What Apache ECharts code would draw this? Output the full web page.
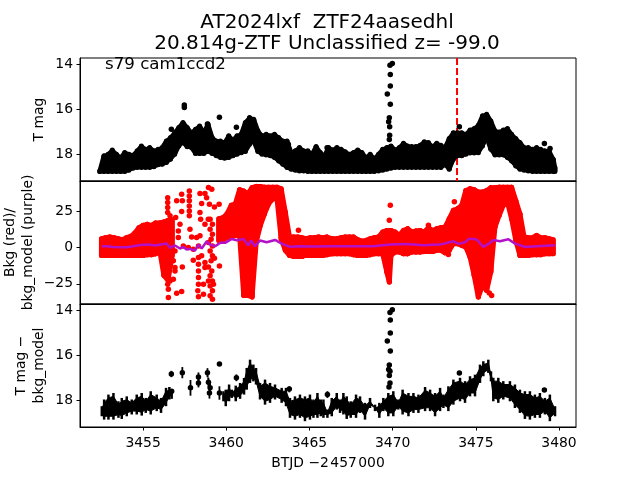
<!DOCTYPE html>
<html><head><meta charset="utf-8">
<style>html,body{margin:0;padding:0;background:#fff}#c{width:640px;height:480px}</style>
<script src="https://cdn.jsdelivr.net/npm/echarts@6/dist/echarts.min.js"></script>
</head><body><div id="c"></div>
<script>
const xTicks=[3455,3460,3465,3470,3475,3480];
const magTicks=[14,16,18];
const bkgTicks=[-25,0,25];
const eventTime=3473.87;
// Panel 1: dense T mag band, columns of [time, brightest, faintest]
const magBand=[
[3452.4,18.75,18.78],[3452.65,18.08,18.78],[3452.9,18.01,18.78],[3453.15,17.82,18.78],[3453.4,18.01,18.78],[3453.65,18.16,18.78],[3453.9,17.93,18.78],[3454.15,18.01,18.72],[3454.4,18.05,18.63],[3454.65,17.86,18.6],[3454.9,17.64,18.6],[3455.15,17.79,18.6],[3455.4,17.71,18.6],[3455.65,17.86,18.57],[3455.9,17.79,18.48],[3456.15,17.71,18.46],[3456.4,17.42,18.38],[3456.65,17.27,18.23],[3456.9,17.05,18.01],[3457.15,16.82,17.64],[3457.4,16.6,17.49],[3457.65,16.82,17.68],[3457.9,17.05,17.71],[3458.15,16.9,17.98],[3458.4,16.75,17.98],[3458.65,17.05,17.98],[3458.9,16.67,17.89],[3459.15,17.27,17.98],[3459.4,17.42,18.08],[3459.65,17.42,18.16],[3459.9,17.49,18.19],[3460.15,17.19,18.16],[3460.4,17.37,18.08],[3460.65,17.19,18.01],[3460.9,17.12,17.94],[3461.15,16.6,17.89],[3461.4,16.38,17.57],[3461.65,16.45,17.42],[3461.9,16.97,17.89],[3462.15,17.19,18.01],[3462.4,17.12,18.04],[3462.65,17.19,18.08],[3462.9,17.12,18.16],[3463.15,17.27,18.31],[3463.4,17.42,18.46],[3463.65,17.42,18.6],[3463.9,17.93,18.68],[3464.15,17.86,18.72],[3464.4,17.71,18.75],[3464.65,17.86,18.75],[3464.9,17.86,18.78],[3465.15,18.01,18.78],[3465.4,17.67,18.78],[3465.65,17.93,18.78],[3465.9,18.08,18.78],[3466.15,17.71,18.78],[3466.4,17.82,18.78],[3466.65,17.71,18.78],
[3466.9,17.79,18.78],[3467.15,17.9,18.78],[3467.4,18.01,18.78],[3467.65,17.93,18.78],[3467.9,17.82,18.78],[3468.15,17.93,18.78],[3468.4,18.16,18.78],[3468.65,18.01,18.78],[3468.9,18.2,18.78],[3469.15,18.01,18.75],[3469.4,17.79,18.72],[3469.65,17.71,18.68],[3469.9,17.64,18.63],[3470.15,17.82,18.6],[3470.4,17.71,18.6],[3470.65,17.52,18.6],[3470.9,17.64,18.6],[3471.15,17.67,18.6],[3471.4,17.67,18.6],[3471.65,17.61,18.6],[3471.9,17.46,18.6],[3472.15,17.49,18.6],[3472.4,17.67,18.6],[3472.65,17.52,18.6],[3472.9,17.61,18.6],[3473.15,17.71,18.48],[3473.4,17.31,18.68],[3473.65,17.05,18.23],[3473.9,17.05,18.08],[3474.15,17.05,18.08],[3474.4,17.12,18.01],[3474.65,16.93,17.95],[3474.9,16.87,17.95],[3475.15,16.72,17.94],[3475.4,16.3,17.64],[3475.65,16.23,17.27],[3475.9,16.53,17.79],[3476.15,16.97,18.04],[3476.4,17.02,18.04],[3476.65,16.93,18.04],[3476.9,16.87,18.16],[3477.15,17.12,18.31],[3477.4,17.31,18.53],[3477.65,17.49,18.68],[3477.9,17.71,18.72],[3478.15,17.71,18.75],[3478.4,17.79,18.78],[3478.65,17.71,18.78],[3478.9,17.79,18.78],[3479.15,17.86,18.78],[3479.4,17.86,18.78],[3479.65,18.23,18.78],[3479.75,18.6,18.78]];
const magPoints=[[3457.48,15.93],[3457.48,15.82],[3456.7,16.9],[3458.87,16.67],[3459.59,16.37],[3460.61,16.81],[3463.73,17.57],[3466.06,17.72],[3469.98,13.97],[3469.84,14.05],[3469.86,14.46],[3469.86,14.98],[3469.68,15.33],[3469.86,15.79],[3469.8,16.39],[3469.76,16.56],[3469.82,16.79],[3469.82,17.16],[3469.8,17.35],[3474.01,16.79],[3479.12,17.53],[3479.46,17.75]];
// Panel 2: dense background band [time, top, bottom] and scattered points
const bkgBand=[
[3452.5,5.9,-5.5],[3452.75,6.6,-5.5],[3453,7.1,-5.5],[3453.25,6.6,-5.5],[3453.5,5.9,-5.5],[3453.75,5.3,-5.5],[3454,6.6,-5.5],[3454.25,7.5,-5.5],[3454.5,9.8,-5.5],[3454.75,13.5,-5.5],[3455,15.1,-5.5],[3455.25,15.8,-5],[3455.5,15.1,-5],[3455.75,16.7,-4.4],[3456,16.7,-2],[3456.25,17.4,-19.2],[3456.5,18.5,-22.6],[3456.75,19,-5.5],
[3459.55,19.6,4.8],[3459.8,20.3,4.8],[3460.05,23.1,7],[3460.3,28.8,7],[3460.55,29.9,8.2],[3460.8,39.5,8.2],[3461.05,38.6,-32.9],[3461.3,36.8,-32.9],[3461.55,40.9,-34],[3461.8,41.8,3.6],[3462.05,41.8,15.1],[3462.3,41.3,23],[3462.55,41.3,29.9],[3462.8,41.3,33.3],[3463.05,41.3,33.3],[3463.3,40.2,5.9],[3463.55,24.2,-2],[3463.8,7.1,-5.5],[3464.05,7.1,-6.2],[3464.3,7.1,-6.2],[3464.55,6.6,-6.2],[3464.8,5.9,-5.5],[3465.05,6.6,-5.5],[3465.3,6.6,-5.5],[3465.55,7.1,-5.5],[3465.8,6.6,-5.5],[3466.05,7.1,-5],
[3466.4,5.9,-4.4],[3466.65,5.9,-4.4],[3466.9,6.6,-4.4],[3467.15,7.1,-4.4],[3467.4,7.1,-4.4],[3467.65,7.1,-5],[3467.9,5.3,-5.5],[3468.15,4.3,-5.5],[3468.4,4.8,-5.5],[3468.65,5.9,-5],[3468.9,6.6,-4.4],[3469.15,7.1,-4.4],[3469.4,10.5,-4.4],[3469.65,11.6,-16.9],[3469.8,11.6,-23.8],[3469.9,11.6,-5.5],[3470.15,10.5,-3.2],[3470.4,8.2,-3.2],[3470.65,11.6,-4.4],[3470.9,12.8,-4.4],[3471.15,10.5,-3.2],[3471.4,11.2,-3.2],[3471.65,11.6,-3.2],[3471.9,10.5,-2.8],[3472.15,13.5,-2.8],[3472.4,11.6,-2.8],[3472.65,12.8,-2],[3472.9,13.5,-2],[3473.15,13.9,-3.7],[3473.4,19.6,-2],[3473.65,25.4,2.5],[3473.9,26.5,2.5],[3474.15,28.8,1.4],[3474.4,39,0.2],[3474.65,40.2,-6.6],[3474.9,39.5,-19.2],[3475.15,37.9,-34],[3475.4,37.9,-26],[3475.65,39,-29.5],[3475.9,40.9,-16.9],[3476.15,40.9,13.9],[3476.4,41.3,21.9],[3476.65,41.3,28.8],[3476.9,41.3,31],[3477.15,41.3,19.6],[3477.4,32.2,4.8],[3477.65,23.1,-5.5],[3477.9,7.1,-5.5],[3478.15,6.6,-5.5],[3478.4,6.6,-5],[3478.65,8.2,-5],[3478.9,6.6,-5],[3479.15,6.6,-4.4],[3479.4,5.9,-4.4],[3479.65,5.3,-4.4]];
const bkgPoints=[[3456.48,34.1],[3456.48,30.7],[3456.48,27.3],[3456.48,23.9],[3456.62,21.6],[3457.02,31.9],[3457.36,31.9],[3457.32,36.4],[3457.32,24.6],[3456.96,20.4],[3457.78,38.7],[3457.78,35.3],[3457.78,31.9],[3457.78,28.4],[3457.78,25],[3457.78,21.6],[3458.93,41],[3459.13,39.8],[3458.42,36.9],[3458.72,36.9],[3458.82,34.1],[3458.52,30],[3458.99,29.6],[3459.29,27.7],[3459.57,29.6],[3458.42,23.9],[3458.46,19.3],[3458.72,15.9],[3458.92,19.3],[3457.82,12.4],[3457.92,7.2],[3458.22,6.7],[3458.42,7.9],[3458.33,-16.1],[3458.33,-20.7],[3458.33,-25.2],[3458.29,-29.8],[3458.33,-33.9],[3458.63,-32.1],[3458.63,-25.2],[3458.72,-13.8],[3458.02,-8.8],[3458.33,-6.9],[3458.52,-5.8],[3458.33,-11.5],[3458.72,-10.4],[3459.59,-12.7],[3456.92,-13.8],[3456.92,-16.1],[3457.36,-13.4],[3456.82,-21.8],[3457.02,-31.4],[3457.32,-30.2],[3456.52,-34.4],[3456.52,-28.7],[3456.62,-23],[3456.48,-25.2],[3456.92,-2.4],[3456.72,-5.8],[3456.82,-9.2],[3457.12,11.3],[3457.22,15.9],[3457.12,6.7],[3458.02,-1.3],[3458.33,1],[3457.72,-0.1],[3457.42,1],[3464.34,11.8],[3469.86,28.9],[3469.8,18.6],[3473.71,31.2],[3472.15,15.2],[3473.35,-4.9],[3475.69,-22.5],[3475.81,-31.2],[3475.95,-33],
[3459.03,19.3],[3459.17,15.9],[3459.03,12.4],[3459.17,9],[3459.09,5.6],[3458.93,3.3],[3459.17,1],[3459.03,-2.4],[3459.17,-5.8],[3459.09,-9.2],[3459.29,-7.4],[3458.93,-13.4],[3459.13,-16.1],[3459.03,-19.5],[3459.17,-23],[3459.03,-26.4],[3459.17,-29.8],[3459.03,-33.2],[3459.17,-35.5],[3459.23,-25.2],[3458.93,-23]];
const modelTimes=[3452.52,3452.82,3453.22,3453.72,3454.02,3454.42,3454.82,3455.42,3455.72,3456.42,3456.62,3456.92,3457.22,3457.42,3457.62,3457.82,3458.12,3458.32,3458.52,3458.83,3459.03,3459.33,3459.63,3459.93,3460.33,3460.63,3461.03,3461.33,3461.49,3461.73,3462.03,3462.43,3462.93,3463.33,3463.83,3464.23,3465.24,3466.24,3467.24,3468.24,3468.84,3469.84,3470.85,3471.85,3472.85,3473.65,3473.95,3474.35,3474.61,3475.05,3475.45,3475.85,3476.05,3476.45,3476.96,3477.36,3477.96,3478.66,3479.76];
const modelValues=[0.8,0.8,0.3,0.1,0.1,0.8,1.7,1.9,1.3,2.6,-0.3,1.3,-0.8,0.3,-1.5,-1,-2.2,1.9,-0.8,4.2,1.9,0.8,3.1,3.1,5.8,4.9,5.8,1.3,4.7,0.8,4.7,3.5,5.1,2.6,0.3,0.8,0.6,0.8,0.8,0.8,0.8,1.9,2.4,1.5,1.9,4.2,2.4,3.5,6,5.4,0.3,3.1,5.1,4.2,5.6,2.6,0.3,0.8,1.5];
// Panel 3: T mag minus background model, error spans
const diffBand=[
[3452.52,18.27,18.72],[3452.66,17.97,18.87],[3452.92,17.75,18.87],[3453.22,17.68,18.87],[3453.52,18.05,18.79],[3453.72,17.9,18.84],[3454.02,17.83,18.72],[3454.32,17.97,18.64],[3454.62,17.75,18.64],[3454.92,17.68,18.69],[3455.16,17.9,18.57],[3455.46,17.6,18.64],[3455.82,17.75,18.49],[3456.08,17.9,18.57],[3456.38,17.45,18.27],[3456.58,17.41,17.97],[3456.72,17.53,17.94],
[3459.83,17.6,18.05],[3459.97,17.53,18.27],[3460.17,17.3,18.05],[3460.33,17.53,17.9],[3460.57,17.35,18.05],[3460.83,17.23,17.94],[3461.07,17.01,17.75],[3461.23,16.56,17.53],[3461.43,16.19,17.23],[3461.63,16.41,17.16],[3461.79,16.56,17.3],[3462.03,17.23,17.97],[3462.33,17.08,18.2],[3462.63,17.23,18.12],[3462.93,17.3,17.97],[3463.33,17.45,18.12],[3463.59,17.45,18.27],[3463.83,17.9,18.79],[3464.13,17.83,18.87],[3464.43,17.75,18.79],[3464.73,17.83,18.94],[3465.03,17.75,18.87],[3465.24,17.97,18.79],[3465.48,17.68,18.79],[3465.68,17.97,18.72],[3465.84,17.97,18.79],[3466.08,18.42,18.79],[3466.34,17.9,18.72],[3466.64,17.68,18.42],
[3466.84,17.97,18.57],[3467.04,17.68,18.64],[3467.24,17.83,18.84],[3467.48,18.05,18.79],[3467.8,17.75,18.79],[3468.04,17.83,18.57],[3468.34,18.12,18.87],[3468.64,17.9,18.35],[3468.94,18.2,18.49],[3469.2,18.12,18.79],[3469.44,17.9,18.49],[3469.74,17.68,18.72],[3470.04,17.6,18.72],[3470.34,17.97,18.42],[3470.6,17.53,18.64],[3470.95,17.68,18.72],[3471.25,17.68,18.57],[3471.55,17.75,18.57],[3471.95,17.41,18.49],[3472.25,17.53,18.49],[3472.55,17.68,18.72],[3472.85,17.45,18.49],[3473.05,17.75,18.35],[3473.35,17.38,18.49],[3473.65,17.08,18.2],[3474.05,17,18.05],[3474.35,17.15,18.12],[3474.65,16.93,17.83],[3474.95,16.86,17.83],[3475.25,16.41,17.23],[3475.45,16.26,16.93],[3475.75,16.19,16.78],[3475.91,16.71,17.16],[3476.05,17,18.05],[3476.35,17,18.12],[3476.65,17.15,17.97],[3477.05,17.15,18.05],[3477.35,17.3,18.35],[3477.65,17.53,18.57],[3477.95,17.6,18.84],[3478.25,17.6,18.87],[3478.55,17.75,18.79],[3478.85,17.68,18.79],[3479.15,17.9,18.64],[3479.45,17.75,18.94],[3479.76,18.27,18.72]];
const diffBars=[[3456.7,16.69,16.97],[3457.36,16.52,17.02],[3457.85,17.1,17.8],[3458.33,16.76,17.16],[3458.33,17.03,17.43],[3458.87,16.57,16.97],[3458.93,17,17.4],[3459.03,17.25,17.65],[3458.99,17.43,17.93],[3459.59,17.38,17.98],[3460.61,16.85,17.15],[3463.79,17.38,17.65],[3466.08,17.6,17.9]];
const diffPoints=[[3456.7,16.83],[3457.36,16.77],[3457.85,17.45],[3458.33,16.96],[3458.33,17.23],[3458.87,16.77],[3458.93,17.2],[3459.03,17.45],[3458.99,17.68],[3459.59,16.38],[3459.59,17.68],[3460.61,17],[3463.79,17.5],[3466.08,17.75],[3456.72,17.6],[3469.98,13.96],[3469.84,14.08],[3469.86,14.42],[3469.86,15],[3469.68,15.35],[3469.86,15.8],[3469.8,16.43],[3469.76,16.63],[3469.84,16.71],[3469.8,16.9],[3469.84,17.23],[3469.78,17.41],[3474.01,16.78],[3479.12,17.54]];

const FONT='DejaVu Sans';
const MAXGAP=0.41;
// A band: sticks at each column, and a filled quad to the next column when it is close enough
const band=(data,color,width,cap,fillStroke,inset,xi,yi,z)=>({type:'custom',xAxisIndex:xi,yAxisIndex:yi,z,silent:true,clip:false,
  data,encode:{x:0,y:[1,2]},
  renderItem:(p,api)=>{
    const row=data[p.dataIndex],next=data[p.dataIndex+1];
    const a=api.coord([row[0],row[1]]),b=api.coord([row[0],row[2]]);
    const children=[{type:'line',shape:{x1:a[0],y1:a[1],x2:b[0],y2:b[1]},style:{stroke:color,lineWidth:width,lineCap:cap}}];
    if(next&&next[0]>row[0]&&next[0]-row[0]<MAXGAP){
      const a2=api.coord([row[0],row[1]+inset]),b2=api.coord([row[0],row[2]-inset]);
      const c=api.coord([next[0],next[1]+inset]),d=api.coord([next[0],next[2]-inset]);
      children.push({type:'polygon',shape:{points:[a2,c,d,b2]},style:{fill:color,stroke:color,lineWidth:fillStroke,lineJoin:'round'}});
    }
    return {type:'group',children};
  }});
const dots=(data,color,xi,yi,z)=>({type:'scatter',xAxisIndex:xi,yAxisIndex:yi,z,silent:true,data,symbolSize:5.5,itemStyle:{color,opacity:1}});
const lbl={color:'#000',fontFamily:FONT,fontSize:13.9,margin:7};
const tick={length:3.5,lineStyle:{color:'#000',width:1}};
const nameStyle={color:'#000',fontFamily:FONT,fontSize:13.9,lineHeight:18};
const xAxisFor=(i,show)=>({type:'value',gridIndex:i,min:3451.21,max:3481.02,position:'bottom',splitLine:{show:false},
  axisLine:{show:true,onZero:false,lineStyle:{color:'#000',width:1}},
  axisTick:show?{...tick,customValues:xTicks}:{show:false},
  axisLabel:show?{...lbl,margin:9,customValues:xTicks,formatter:v=>String(v)}:{show:false},
  ...(show?{name:'BTJD \u22122\u200A457\u200A000',nameLocation:'middle',nameGap:36,nameMoveOverlap:false,nameTextStyle:{...nameStyle,verticalAlign:'middle'}}:{})});
const yAxisFor=(i,min,max,inv,ticks,name,gap,fmt)=>({type:'value',gridIndex:i,min,max,inverse:inv,splitLine:{show:false},
  axisLine:{show:true,onZero:false,lineStyle:{color:'#000',width:1}},
  axisTick:{...tick,customValues:ticks},
  axisLabel:{...lbl,customValues:ticks,formatter:fmt||(v=>String(v)),padding:[2,0,0,0]},
  name,nameLocation:'middle',nameGap:gap,nameMoveOverlap:false,nameTextStyle:{...nameStyle,verticalAlign:'middle'}});
const grid=(top)=>({left:80,width:496,top,height:123,show:true,borderColor:'#000',borderWidth:1,backgroundColor:'transparent',outerBoundsMode:'none'});
const option={animation:false,backgroundColor:'#fff',
 title:{text:'AT2024lxf  ZTF24aasedhl\n20.814g-ZTF Unclassified z= -99.0',left:322,top:7,textAlign:'center',
   textStyle:{color:'#000',fontFamily:FONT,fontSize:20,fontWeight:'normal',lineHeight:21.5}},
 graphic:[{type:'text',left:105,top:56.5,style:{text:'s79 cam1ccd2',fill:'#000',fontFamily:FONT,fontSize:16.67}}],
 grid:[grid(58),grid(181),grid(304)],
 xAxis:[xAxisFor(0,false),xAxisFor(1,false),xAxisFor(2,true)],
 yAxis:[yAxisFor(0,13.73,19.2,true,magTicks,'T mag',41),
        yAxisFor(1,-38.8,45.5,false,bkgTicks,'Bkg (red)/\nbkg_model (purple)',61,v=>String(v).replace('-','\u2212')),
        yAxisFor(2,13.7,19.2,true,magTicks,'T mag \u2212\nbkg_model',50)],
 series:[
  {type:'line',xAxisIndex:0,yAxisIndex:0,z:1,silent:true,showSymbol:false,data:[[eventTime,13.73],[eventTime,19.2]],lineStyle:{color:'#f00',width:2,type:[7,3]}},
  band(magBand,'#000',5,'round',5,0.03,0,0,2),dots(magPoints,'#000',0,0,3),
  band(bkgBand,'#f00',5,'round',5,0,1,1,2),dots(bkgPoints,'#f00',1,1,3),
  {type:'line',xAxisIndex:1,yAxisIndex:1,z:4,silent:true,showSymbol:false,data:modelTimes.map((t,i)=>[t,modelValues[i]]),lineStyle:{color:'#b311c9',width:2.5}},
  band(diffBand,'#000',2.5,'butt',1,0.15,2,2,2),band(diffBars,'#000',1.8,'butt',0,0,2,2,2),dots(diffPoints,'#000',2,2,3)
 ]};
echarts.init(document.getElementById('c'),null,{renderer:'canvas'}).setOption(option);
</script></body></html>
